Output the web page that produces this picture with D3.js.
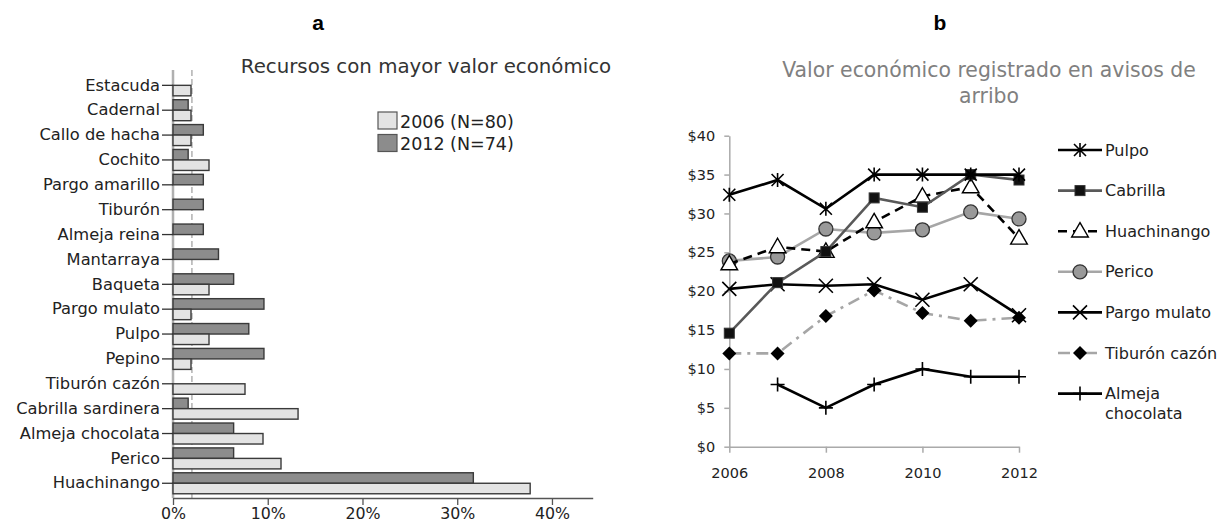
<!DOCTYPE html>
<html>
<head>
<meta charset="utf-8">
<script src="https://cdn.jsdelivr.net/npm/d3@7"></script>
<style>
  html, body { margin: 0; padding: 0; background: #fff; }
  svg { display: block; font-family: "DejaVu Sans", sans-serif; }
</style>
</head>
<body>
<svg id="chart" width="1220" height="527"></svg>
<script>
// ---- Panel a: share of mentions per resource ----
const resources = ["Estacuda", "Cadernal", "Callo de hacha", "Cochito", "Pargo amarillo",
  "Tiburón", "Almeja reina", "Mantarraya", "Baqueta", "Pargo mulato", "Pulpo", "Pepino",
  "Tiburón cazón", "Cabrilla sardinera", "Almeja chocolata", "Perico", "Huachinango"];
const share2006 = [1.9, 1.9, 1.9, 3.8, 0, 0, 0, 0, 3.8, 1.9, 3.8, 1.9, 7.6, 13.2, 9.5, 11.4, 37.7];
const share2012 = [0, 1.6, 3.2, 1.6, 3.2, 3.2, 3.2, 4.8, 6.4, 9.6, 8.0, 9.6, 0, 1.6, 6.4, 6.4, 31.7];
const barSeries = ["2012", "2006"];
const barLegend = ["2006 (N=80)", "2012 (N=74)"];
const shareTicks = [0, 10, 20, 30, 40];
const referenceShare = 2;

// ---- Panel b: landing-notice value by year ----
const years = [2006, 2007, 2008, 2009, 2010, 2011, 2012];
const pulpo = [32.4, 34.3, 30.6, 35, 35, 35, 35];
const cabrilla = [14.6, 21.1, 25.1, 32.0, 30.8, 35, 34.3];
const huachinango = [23.5, 25.7, 25.1, 28.9, 32.2, 33.4, 26.8];
const perico = [23.9, 24.4, 28.0, 27.5, 27.9, 30.2, 29.3];
const pargoMulato = [20.3, 20.9, 20.7, 20.9, 18.9, 20.9, 16.9];
const tiburonCazon = [12.0, 12.0, 16.8, 20.1, 17.2, 16.2, 16.6];
const almejaChocolata = [null, 8.0, 5.0, 8.0, 10.0, 9.0, 9.0];
const priceTicks = [0, 5, 10, 15, 20, 25, 30, 35, 40];
const yearTicks = [2006, 2008, 2010, 2012];
const seriesNames = ["Pulpo", "Cabrilla", "Huachinango", "Perico", "Pargo mulato", "Tiburón cazón", "Almeja chocolata"];

const svg = d3.select("#chart");

// Panel letters
svg.append("text").attr("x", 318).attr("y", 30).attr("text-anchor", "middle")
  .style("font-family", "'Liberation Sans', Arial, sans-serif").style("font-weight", "bold")
  .style("font-size", "21px").text("a");
svg.append("text").attr("x", 940).attr("y", 30).attr("text-anchor", "middle")
  .style("font-family", "'Liberation Sans', Arial, sans-serif").style("font-weight", "bold")
  .style("font-size", "21px").text("b");

// ================= Panel a =================
const ga = svg.append("g");
const x = d3.scaleLinear().domain([0, 44.3]).range([173, 592.7]);
const y = d3.scaleBand().domain(resources).range([72.9, 495.7]).padding(0);
const yInner = d3.scaleBand().domain(barSeries)
  .range([y.bandwidth() / 2 - 10.5, y.bandwidth() / 2 + 10.5]);
const barFill = { "2006": "#e3e3e3", "2012": "#8c8c8c" };

ga.append("text").attr("x", 426).attr("y", 73).attr("text-anchor", "middle")
  .style("font-size", "19.8px").attr("fill", "#333").text("Recursos con mayor valor económico");

// vertical axis line and reference line
ga.append("line").attr("x1", x(0)).attr("x2", x(0)).attr("y1", 70).attr("y2", 498)
  .attr("stroke", "#b0b0b0").attr("stroke-width", 2.5);
ga.append("line").attr("x1", x(referenceShare)).attr("x2", x(referenceShare)).attr("y1", 70).attr("y2", 498)
  .attr("stroke", "#8a8a8a").attr("stroke-width", 1).attr("stroke-dasharray", "6,3");

const rows = resources.map((r, i) => ({ r, v: { "2006": share2006[i], "2012": share2012[i] } }));
const rowG = ga.selectAll("g.row").data(rows).join("g")
  .attr("transform", d => `translate(0,${y(d.r)})`);
rowG.selectAll("rect").data(d => barSeries.map(s => ({ s, v: d.v[s] })).filter(e => e.v > 0))
  .join("rect")
  .attr("x", x(0)).attr("y", e => yInner(e.s))
  .attr("width", e => x(e.v) - x(0)).attr("height", yInner.bandwidth())
  .attr("fill", e => barFill[e.s]).attr("stroke", "#3a3a3a").attr("stroke-width", 1.4);

// category axis
const yAxis = ga.append("g").attr("transform", `translate(${x(0)},0)`)
  .call(d3.axisLeft(y).tickSize(11).tickPadding(2));
yAxis.select(".domain").remove();
yAxis.selectAll(".tick line").attr("stroke", "#333").attr("stroke-width", 1.3);
yAxis.selectAll(".tick text").style("font-family", "'DejaVu Sans', sans-serif")
  .style("font-size", "16.3px").attr("fill", "#222");

// share axis
const xAxis = ga.append("g").attr("transform", "translate(0,498)")
  .call(d3.axisBottom(x).tickValues(shareTicks).tickFormat(d => d + "%").tickSize(7).tickSizeOuter(0).tickPadding(3));
xAxis.select(".domain").attr("stroke", "#555").attr("stroke-width", 1.3);
xAxis.selectAll(".tick line").attr("stroke", "#555").attr("stroke-width", 1.3);
xAxis.selectAll(".tick text").style("font-family", "'DejaVu Sans', sans-serif")
  .style("font-size", "15.8px").attr("fill", "#222");

// legend
const legA = ga.append("g");
["2006", "2012"].forEach((s, i) => {
  legA.append("rect").attr("x", 378).attr("y", 112 + i * 22.5).attr("width", 19).attr("height", 17)
    .attr("fill", barFill[s]).attr("stroke", "#555").attr("stroke-width", 1.2);
  legA.append("text").attr("x", 400).attr("y", 127.5 + i * 22.5)
    .style("font-size", "17.5px").attr("fill", "#222").text(barLegend[i]);
});

// ================= Panel b =================
const gb = svg.append("g");
const xb = d3.scaleLinear().domain([2006, 2012]).range([729.3, 1019]);
const yb = d3.scaleLinear().domain([0, 40]).range([446.7, 135.7]);

const titleB = gb.append("text").attr("text-anchor", "middle").attr("fill", "#808080")
  .style("font-size", "20.4px");
titleB.append("tspan").attr("x", 989).attr("y", 77).text("Valor económico registrado en avisos de");
titleB.append("tspan").attr("x", 989).attr("y", 103).text("arribo");

const yAxisB = gb.append("g").attr("transform", `translate(${xb(2006)},0)`)
  .call(d3.axisLeft(yb).tickValues(priceTicks).tickFormat(d => "$" + d).tickSize(5).tickSizeOuter(0).tickPadding(9));
yAxisB.select(".domain").attr("stroke", "#aaa").attr("stroke-width", 1.5);
yAxisB.selectAll(".tick line").attr("stroke", "#aaa").attr("stroke-width", 1.5);
yAxisB.selectAll(".tick text").style("font-family", "'DejaVu Sans', sans-serif")
  .style("font-size", "14.5px").attr("fill", "#222");

const xAxisB = gb.append("g").attr("transform", `translate(0,${yb(0)})`)
  .call(d3.axisBottom(xb).tickValues(yearTicks).tickFormat(d3.format("d")).tickSize(6).tickSizeOuter(0).tickPadding(15));
xAxisB.select(".domain").attr("stroke", "#aaa").attr("stroke-width", 1.5);
xAxisB.selectAll(".tick line").attr("stroke", "#aaa").attr("stroke-width", 1.5);
xAxisB.selectAll(".tick text").style("font-family", "'DejaVu Sans', sans-serif")
  .style("font-size", "14.5px").attr("fill", "#222");

// marker shapes drawn around (0,0)
function marker(g, kind) {
  const s = 6;
  if (kind === "asterisk") {
    g.append("path").attr("d", `M${-s},${-s}L${s},${s}M${-s},${s}L${s},${-s}M0,${-s - 1}L0,${s + 1}`)
      .attr("stroke", "#000").attr("stroke-width", 1.6).attr("fill", "none");
  } else if (kind === "square") {
    g.append("rect").attr("x", -5).attr("y", -5).attr("width", 10).attr("height", 10)
      .attr("fill", "#111").attr("stroke", "#333").attr("stroke-width", 1);
  } else if (kind === "triangle") {
    g.append("path").attr("d", d3.symbol(d3.symbolTriangle, 120)())
      .attr("transform", "translate(0,1)")
      .attr("fill", "#fff").attr("stroke", "#000").attr("stroke-width", 1.4);
  } else if (kind === "circle") {
    g.append("circle").attr("r", 7).attr("fill", "#999").attr("stroke", "#333").attr("stroke-width", 1.3);
  } else if (kind === "x") {
    g.append("path").attr("d", `M${-s - 1},${-s - 1}L${s + 1},${s + 1}M${-s - 1},${s + 1}L${s + 1},${-s - 1}`)
      .attr("stroke", "#000").attr("stroke-width", 1.6).attr("fill", "none");
  } else if (kind === "diamond") {
    g.append("path").attr("d", "M0,-7L7,0L0,7L-7,0Z").attr("fill", "#000");
  } else if (kind === "plus") {
    g.append("path").attr("d", `M${-s - 1},0L${s + 1},0M0,${-s - 1}L0,${s + 1}`)
      .attr("stroke", "#000").attr("stroke-width", 1.6).attr("fill", "none");
  }
}

const series = [
  { name: seriesNames[0], values: pulpo, color: "#000", dash: null, mark: "asterisk" },
  { name: seriesNames[1], values: cabrilla, color: "#595959", dash: null, mark: "square" },
  { name: seriesNames[2], values: huachinango, color: "#000", dash: "9,6", mark: "triangle" },
  { name: seriesNames[3], values: perico, color: "#a6a6a6", dash: null, mark: "circle" },
  { name: seriesNames[4], values: pargoMulato, color: "#000", dash: null, mark: "x" },
  { name: seriesNames[5], values: tiburonCazon, color: "#a6a6a6", dash: "12,6,3,6", mark: "diamond" },
  { name: seriesNames[6], values: almejaChocolata, color: "#000", dash: null, mark: "plus" }
];

const line = d3.line().defined(d => d.v != null).x(d => xb(d.year)).y(d => yb(d.v));
// draw in reverse so the top entries sit above the others
series.slice().reverse().forEach(s => {
  const pts = years.map((year, i) => ({ year, v: s.values[i] }));
  gb.append("path").datum(pts).attr("d", line).attr("fill", "none")
    .attr("stroke", s.color).attr("stroke-width", 2.6)
    .attr("stroke-dasharray", s.dash);
  pts.filter(p => p.v != null).forEach(p => {
    const g = gb.append("g").attr("transform", `translate(${xb(p.year)},${yb(p.v)})`);
    marker(g, s.mark);
  });
});

// legend for panel b
const legB = gb.append("g");
series.forEach((s, i) => {
  const cy = 150 + i * 40.6;
  legB.append("line").attr("x1", 1058).attr("x2", 1102).attr("y1", cy).attr("y2", cy)
    .attr("stroke", s.color).attr("stroke-width", 2.6).attr("stroke-dasharray", s.dash);
  const g = legB.append("g").attr("transform", `translate(1080,${cy})`);
  marker(g, s.mark);
  const words = s.name === "Almeja chocolata" ? ["Almeja", "chocolata"] : [s.name];
  const t = legB.append("text").style("font-size", "16px").attr("fill", "#222");
  words.forEach((w, j) => t.append("tspan").attr("x", 1105).attr("y", cy + 5.5 + j * 20).text(w));
});
</script>
</body>
</html>
